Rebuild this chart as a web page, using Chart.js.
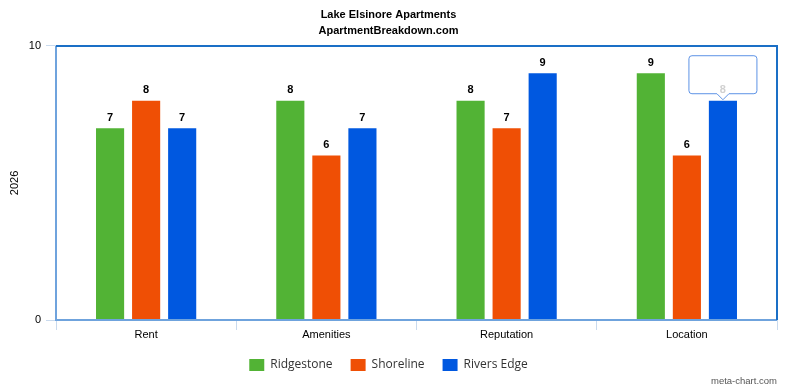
<!DOCTYPE html>
<html><head><meta charset="utf-8">
<script src="https://cdn.jsdelivr.net/npm/chart.js@4/dist/chart.umd.min.js"></script>
<style>html,body{margin:0;padding:0;background:#fff}#wrap{position:relative;width:786px;height:389px}
#credit{position:absolute;right:9px;bottom:3px;font:9.5px "Liberation Sans",Arial,sans-serif;color:#555}</style>
</head><body><div id="wrap"><canvas id="c" width="786" height="389"></canvas><div id="credit">meta-chart.com</div></div>
<script>
const categories = ["Rent", "Amenities", "Reputation", "Location"];
const seriesNames = ["Ridgestone", "Shoreline", "Rivers Edge"];
const ridgestone = [7, 8, 8, 9];
const shoreline = [8, 6, 7, 6];
const riversEdge = [7, 7, 9, 8];
const yTicks = [0, 10];
const colors = ["#52b335", "#ef4f05", "#0058e0"];
const hovered = {dataset: 2, index: 3};

const frame = {
  id: 'frame',
  afterDatasetsDraw(chart) {
    const {ctx, chartArea: a} = chart;
    ctx.save();
    ctx.strokeStyle = '#6fa3dd'; ctx.lineWidth = 2;
    ctx.beginPath(); ctx.moveTo(a.left, a.top); ctx.lineTo(a.left, a.bottom); ctx.lineTo(a.right, a.bottom); ctx.stroke();
    ctx.strokeStyle = '#1a6fc6'; ctx.lineWidth = 2;
    ctx.beginPath();
    ctx.moveTo(a.left, a.top); ctx.lineTo(a.right, a.top); ctx.lineTo(a.right, a.bottom);
    ctx.stroke();
    // tooltip
    const el = chart.getDatasetMeta(hovered.dataset).data[hovered.index];
    const w = 68, h = 38, cx = el.x, by = el.y - 7, r = 3;
    const l = cx - w/2, t = by - h;
    ctx.fillStyle = '#fff'; ctx.strokeStyle = '#5d93e6'; ctx.lineWidth = 1;
    ctx.beginPath();
    ctx.moveTo(l + r, t); ctx.lineTo(l + w - r, t); ctx.quadraticCurveTo(l + w, t, l + w, t + r);
    ctx.lineTo(l + w, by - r); ctx.quadraticCurveTo(l + w, by, l + w - r, by);
    ctx.lineTo(cx + 6, by); ctx.lineTo(cx, el.y - 1); ctx.lineTo(cx - 6, by);
    ctx.lineTo(l + r, by); ctx.quadraticCurveTo(l, by, l, by - r);
    ctx.lineTo(l, t + r); ctx.quadraticCurveTo(l, t, l + r, t);
    ctx.closePath(); ctx.fill(); ctx.stroke();
    // data labels
    ctx.font = 'bold 11px "Liberation Sans", Arial, sans-serif';
    ctx.textAlign = 'center'; ctx.textBaseline = 'bottom';
    chart.data.datasets.forEach((ds, di) => {
      chart.getDatasetMeta(di).data.forEach((b, i) => {
        ctx.fillStyle = (di === hovered.dataset && i === hovered.index) ? '#d0d0d0' : '#000';
        ctx.fillText(String(ds.data[i]), b.x, b.y - 5);
      });
    });
    ctx.restore();
  }
};

new Chart(document.getElementById('c'), {
  type: 'bar',
  data: {
    labels: categories,
    datasets: [ridgestone, shoreline, riversEdge].map((d, i) => ({
      label: seriesNames[i], data: d, backgroundColor: colors[i],
      categoryPercentage: 0.6, barPercentage: 0.78
    }))
  },
  options: {
    responsive: false, animation: false,
    layout: {padding: {left: 0, right: 9, top: 0, bottom: 8}},
    plugins: {
      title: {display: true, text: ['Lake Elsinore Apartments', 'ApartmentBreakdown.com'],
        font: {family: '"Liberation Sans", Arial, sans-serif', size: 11, weight: 'bold', lineHeight: 1.45},
        color: '#000', padding: {top: 7, bottom: 7}},
      legend: {position: 'bottom', labels: {boxWidth: 15, boxHeight: 12, padding: 18,
        font: {family: '"Open Sans", sans-serif', size: 12}, color: '#333'}},
      tooltip: {enabled: false}
    },
    scales: {
      x: {
        afterFit(s) { s.height = 21; },
        grid: {offset: true, drawOnChartArea: false, color: '#c9daee', tickLength: 10},
        border: {display: false},
        ticks: {font: {family: '"Liberation Sans", Arial, sans-serif', size: 11}, color: '#000', padding: -2}
      },
      y: {
        min: 0, max: 10,
        afterFit(s) { s.width = 56; },
        afterBuildTicks(s) { s.ticks = yTicks.map(v => ({value: v})); },
        grid: {drawOnChartArea: false, color: '#c9daee', tickLength: 10},
        border: {display: false},
        ticks: {font: {family: '"Liberation Sans", Arial, sans-serif', size: 11}, color: '#000', padding: 5},
        title: {display: true, text: '2026', font: {family: '"Liberation Sans", Arial, sans-serif', size: 11}, color: '#000', padding: {top: 8, bottom: 4}}
      }
    }
  },
  plugins: [frame]
});
</script></body></html>
